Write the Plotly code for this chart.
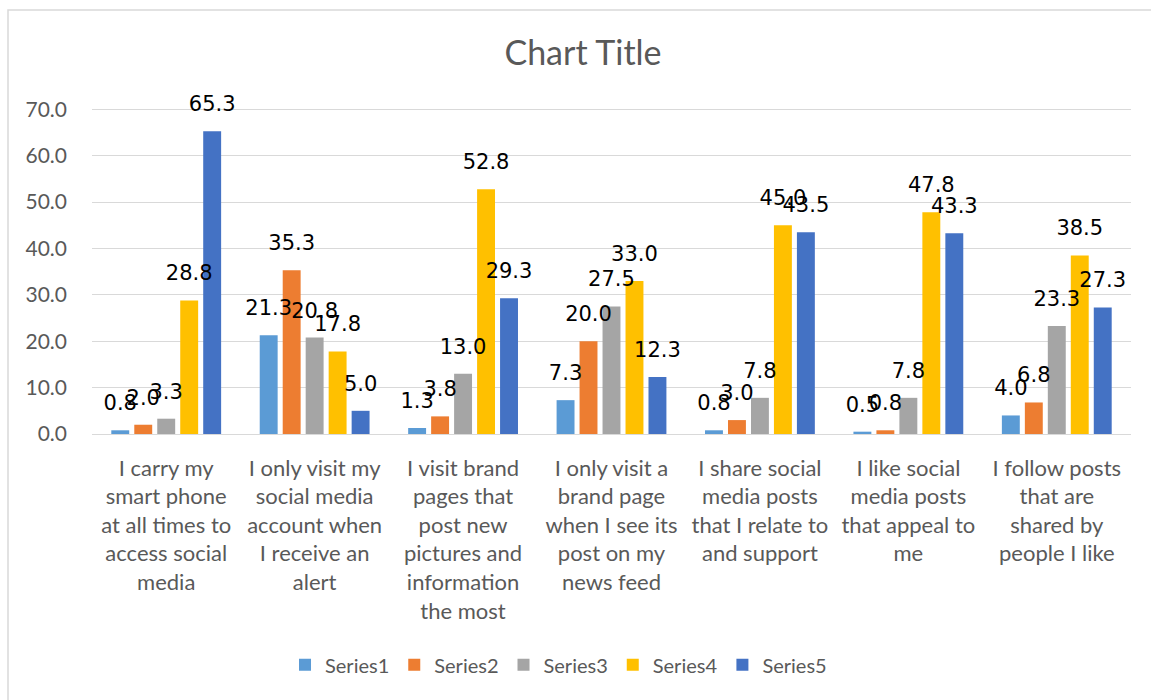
import plotly.graph_objects as go

categories = [
    "I carry my<br>smart phone<br>at all times to<br>access social<br>media",
    "I only visit my<br>social media<br>account when<br>I receive an<br>alert",
    "I visit brand<br>pages that<br>post new<br>pictures and<br>information<br>the most",
    "I only visit a<br>brand page<br>when I see its<br>post on my<br>news feed",
    "I share social<br>media posts<br>that I relate to<br>and support",
    "I like social<br>media posts<br>that appeal to<br>me",
    "I follow posts<br>that are<br>shared by<br>people I like",
]
series_names = ["Series1", "Series2", "Series3", "Series4", "Series5"]
series1 = [0.8, 21.3, 1.3, 7.3, 0.8, 0.5, 4.0]
series2 = [2.0, 35.3, 3.8, 20.0, 3.0, 0.8, 6.8]
series3 = [3.3, 20.8, 13.0, 27.5, 7.8, 7.8, 23.3]
series4 = [28.8, 17.8, 52.8, 33.0, 45.0, 47.8, 38.5]
series5 = [65.3, 5.0, 29.3, 12.3, 43.5, 43.3, 27.3]
y_ticks = [0, 10, 20, 30, 40, 50, 60, 70]

colors = ["#5B9BD5", "#ED7D31", "#A5A5A5", "#FFC000", "#4472C4"]
all_series = [series1, series2, series3, series4, series5]

AXIS_FONT = "Lato, 'Open Sans', sans-serif"
LABEL_FONT = "'DejaVu Sans', sans-serif"
GAP = 0.226

fig = go.Figure()
for name, vals, col in zip(series_names, all_series, colors):
    fig.add_trace(go.Bar(
        x=categories, y=vals, name=name, marker=dict(color=col, line=dict(width=0)),
        offsetgroup=name,
    ))
for name, vals in zip(series_names, all_series):
    fig.add_trace(go.Scatter(
        x=categories, y=vals, mode="markers+text", showlegend=False,
        text=[f"{v:.1f}" for v in vals], textposition="top center",
        textfont=dict(family=LABEL_FONT, size=21, color="#000000"),
        marker=dict(size=22, opacity=0), offsetgroup=name, orientation="v",
        cliponaxis=False, hoverinfo="skip",
    ))

fig.update_layout(
    width=1151, height=700,
    paper_bgcolor="white", plot_bgcolor="white",
    margin=dict(l=92, r=20, t=108, b=266),
    barmode="group", bargap=GAP, bargroupgap=0.22,
    scattermode="group", scattergap=GAP,
    title=dict(text="Chart Title", x=583 / 1151, xanchor="center", y=1 - 53 / 700,
               yanchor="middle", xref="container",
               font=dict(family=AXIS_FONT, size=34, color="#595959")),
    font=dict(family=AXIS_FONT, color="#595959"),
    legend=dict(orientation="h", x=0.449, xanchor="center", y=-0.708, yanchor="middle",
                font=dict(family=AXIS_FONT, size=20, color="#595959"),
                traceorder="normal"),
    showlegend=True,
    shapes=[dict(type="rect", xref="paper", yref="paper",
                 x0=(8 - 92) / 1039, x1=1.2, y0=-1.2, y1=(434 - 10) / 326,
                 line=dict(color="#D9D9D9", width=1.5), fillcolor="rgba(0,0,0,0)",
                 layer="below")],
)
fig.update_yaxes(range=[0, 70.3], tickvals=y_ticks, tickformat=".1f",
                 showgrid=True, gridcolor="#D9D9D9", gridwidth=1.3,
                 zeroline=False, showline=False, ticks="",
                 tickfont=dict(family=AXIS_FONT, size=21, color="#595959"),
                 ticklabelstandoff=24)
fig.update_xaxes(showline=True, linecolor="#D9D9D9", linewidth=1.3, ticks="",
                 tickangle=0,
                 tickfont=dict(family=AXIS_FONT, size=22, color="#595959"),
                 ticklabelstandoff=14)

fig.write_html("out.html", config={"displayModeBar": False},
               post_script="document.body.style.margin='0';document.body.style.padding='0';")
